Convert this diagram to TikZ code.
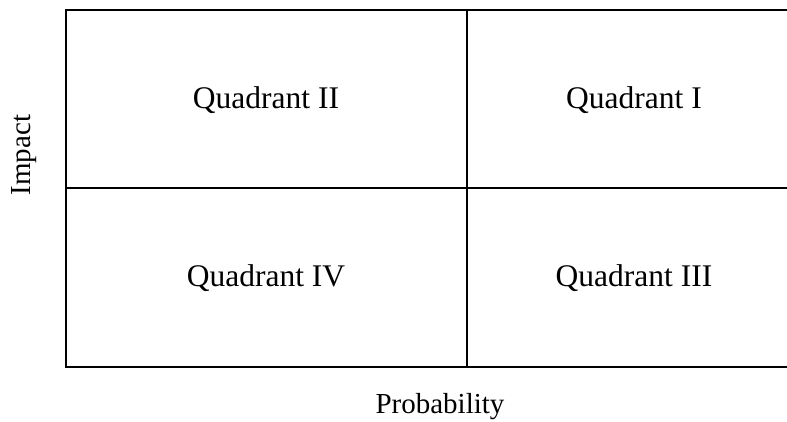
\documentclass[tikz,border=0pt]{standalone}
\usepackage{fontspec}
\setmainfont{Liberation Serif}
\begin{document}
\begin{tikzpicture}[x=1pt,y=-1pt,
  gridline/.style={line width=2pt, line cap=rect},
  quadlabel/.style={font=\fontsize{31.5}{36}\selectfont, inner sep=0pt},
  axislabel/.style={font=\fontsize{29}{34}\selectfont, inner sep=0pt}]
\useasboundingbox (0,0) rectangle (787,422);
\clip (0,0) rectangle (787,422);
\coordinate (TL) at (66,10);
\coordinate (TR) at (801,10);
\coordinate (BL) at (66,367);
\coordinate (BR) at (801,367);
\coordinate (ML) at (66,188);
\coordinate (MR) at (801,188);
\coordinate (MT) at (467,10);
\coordinate (MB) at (467,367);
\draw[gridline] (TR) -- (TL) -- (BL) -- (BR) -- (TR);
\draw[gridline] (ML) -- (MR);
\draw[gridline] (MT) -- (MB);
\node[quadlabel] (q2) at (266,100) {Quadrant II};
\node[quadlabel] (q1) at (634,100) {Quadrant I};
\node[quadlabel] (q4) at (266,278) {Quadrant IV};
\node[quadlabel] (q3) at (634,278) {Quadrant III};
\node[axislabel] (px) at (440,407) {Probability};
\node[axislabel, rotate=90] (iy) at (24,155) {Impact};
\end{tikzpicture}
\end{document}
